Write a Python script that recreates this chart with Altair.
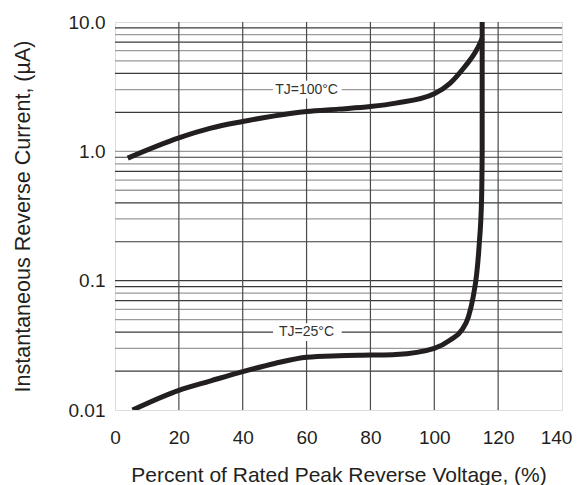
import altair as alt
import pandas as pd

# ---- data ----
x_ticks = [0, 20, 40, 60, 80, 100, 120, 140]
y_ticks = [0.01, 0.1, 1, 10]
y_tick_labels = ["0.01", "0.1", "1.0", "10.0"]

# Tj = 100 C curve
t100_x = [4, 20, 30, 40, 50, 60, 70, 80, 88, 100, 105, 109.6, 112.7, 114.4, 115]
t100_y = [0.886, 1.27, 1.51, 1.70, 1.88, 2.03, 2.12, 2.22, 2.36, 2.79, 3.37, 4.53, 5.75, 6.9, 7.5]

# Tj = 25 C curve
t25_x = [5.5, 20, 30, 40, 50, 60, 70, 80, 88, 100, 105, 108.6, 110.7, 112.2, 113.3, 114.1, 114.8, 115, 115]
t25_y = [0.01, 0.0142, 0.0168, 0.0198, 0.0229, 0.0256, 0.0263, 0.0266, 0.0269, 0.030, 0.0348,
         0.0415, 0.0526, 0.0752, 0.114, 0.195, 0.42, 1.0, 10.0]

# grid lines
grid_dark = [0.02, 0.04, 0.07, 0.09, 0.1, 0.2, 0.4, 0.7, 0.9, 2, 4, 7, 9]
grid_light = [0.03, 0.05, 0.06, 0.08, 0.3, 0.5, 0.6, 0.8, 1, 3, 5, 6, 8]
grid_x = [20, 40, 60, 80, 100, 120]

# curve labels
labels = ["TJ=100°C", "TJ=25°C"]
label_x = [60, 60]
label_y = [3.0, 0.04]

FONT = "Liberation Sans"
INK = "#231f20"

xs = alt.Scale(domain=[0, 140], nice=False, zero=False)
ys = alt.Scale(type="log", domain=[0.01, 10], nice=False)

label_expr = " : ".join(
    f"abs(datum.value - {v}) < {v * 1e-3} ? '{l}'" for v, l in zip(y_ticks, y_tick_labels)
) + " : ''"

x_axis = alt.Axis(values=x_ticks, grid=False, ticks=False, tickSize=0, domain=False,
                  labelFlush=False,
                  labelOffset={"condition": {"test": f"datum.value == {x_ticks[-1]}", "value": -6},
                               "value": 0},
                  labelFontSize=19, labelFont=FONT, labelColor=INK, labelPadding=18,
                  title="Percent of Rated Peak Reverse Voltage, (%)", titleFont=FONT,
                  titleFontSize=21, titleFontWeight="normal", titleColor=INK, titlePadding=17)
y_axis = alt.Axis(values=y_ticks, grid=False, ticks=False, tickSize=0, domain=False,
                  labelFlush=False,
                  labelExpr=label_expr, labelFontSize=19, labelFont=FONT, labelColor=INK,
                  labelPadding=10,
                  title="Instantaneous Reverse Current, (µA)", titleFont=FONT,
                  titleFontSize=21.5, titleFontWeight="normal", titleColor=INK, titlePadding=34)

dark_df = pd.DataFrame({"v": grid_dark})
light_df = pd.DataFrame({"v": grid_light})
gx_df = pd.DataFrame({"x": grid_x})

hdark = alt.Chart(dark_df).mark_rule(color="#3a3a3a", strokeWidth=1.2).encode(
    y=alt.Y("v:Q", scale=ys, axis=y_axis))
hlight = alt.Chart(light_df).mark_rule(color="#9a9a9a", strokeWidth=1.3).encode(
    y=alt.Y("v:Q", scale=ys))
vgrid = alt.Chart(gx_df).mark_rule(color="#4a4a4a", strokeWidth=1.2).encode(
    x=alt.X("x:Q", scale=xs, axis=x_axis))

lab_df = pd.DataFrame({"label": labels, "x": label_x, "y": label_y})
lab_df["x0"] = lab_df["x"] - 10.5
lab_df["x1"] = lab_df["x"] + 11
lab_df["y0"] = lab_df["y"] / 1.17
lab_df["y1"] = lab_df["y"] * 1.17

boxes = alt.Chart(lab_df).mark_rect(color="white").encode(
    x=alt.X("x0:Q", scale=xs), x2="x1:Q",
    y=alt.Y("y0:Q", scale=ys), y2="y1:Q")
texts = alt.Chart(lab_df).mark_text(font=FONT, fontSize=14, color="#333333").encode(
    x=alt.X("x:Q", scale=xs), y=alt.Y("y:Q", scale=ys), text="label:N")

c100 = pd.DataFrame({"x": t100_x, "y": t100_y, "o": range(len(t100_x))})
c25 = pd.DataFrame({"x": t25_x, "y": t25_y, "o": range(len(t25_x))})

line100 = alt.Chart(c100).mark_line(color=INK, strokeWidth=5, interpolate="monotone",
                                    strokeCap="butt", clip=True).encode(
    x=alt.X("x:Q", scale=xs), y=alt.Y("y:Q", scale=ys), order="o:Q")
line25 = alt.Chart(c25).mark_line(color=INK, strokeWidth=5, interpolate="monotone",
                                  strokeCap="butt", clip=True).encode(
    x=alt.X("x:Q", scale=xs), y=alt.Y("y:Q", scale=ys), order="o:Q")

chart = alt.layer(hdark, hlight, vgrid, boxes, texts, line100, line25).properties(
    width=447, height=388,
    autosize=alt.AutoSizeParams(type="none"),
    padding={"left": 107, "top": 14, "right": 11, "bottom": 78},
).configure_view(stroke=INK, strokeWidth=4).configure(background="white")

chart.save("out.html", embed_options={"renderer": "svg", "actions": False})
